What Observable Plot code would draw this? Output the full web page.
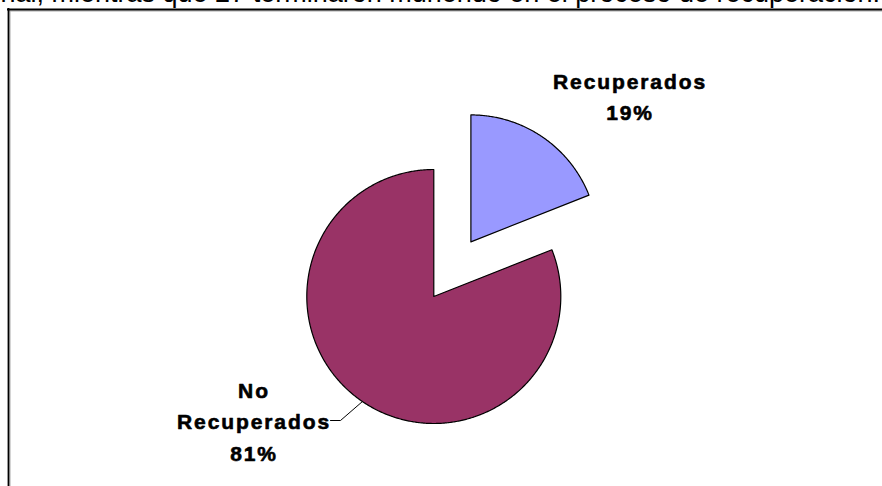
<!DOCTYPE html>
<html><head><meta charset="utf-8">
<script src="https://cdn.jsdelivr.net/npm/d3@7"></script>
<script src="https://cdn.jsdelivr.net/npm/@observablehq/plot@0.6"></script>
<style>body{margin:0;background:#fff}</style>
</head><body><div id="chart"></div>
<script>
// ---- data ----
const categories = ["Recuperados", "No Recuperados"];
const percents = [19, 81];
const labelTexts = ["Recuperados\n19%", "No\nRecuperados\n81%"];
const colors = ["#9999FF", "#993366"];
const introText = "nal, mientras que 27 terminaron muriendo en el proceso de recuperación.";

// ---- layout ----
const W = 882, H = 486;
const center = [433.3, 296], R = 127;
const explode = [66, 0];
const labelPos = [[629.5, 66], [253.5, 375]];

const arcs = d3.pie().sort(null).value(d => d.value)(
  categories.map((c, i) => ({category: c, value: percents[i]}))
);
const points = [];
const slicePos = [];
arcs.forEach((p, i) => {
  const mid = (p.startAngle + p.endAngle) / 2;
  const cx = center[0] + explode[i] * Math.sin(mid);
  const cy = center[1] - explode[i] * Math.cos(mid);
  slicePos.push({cx, cy, mid});
  const push = (x, y) => points.push({category: p.data.category, x, y});
  push(cx, cy);
  const n = Math.ceil((p.endAngle - p.startAngle) / (Math.PI / 360));
  for (let k = 0; k <= n; k++) {
    const a = p.startAngle + (p.endAngle - p.startAngle) * k / n;
    push(cx + R * Math.sin(a), cy - R * Math.cos(a));
  }
  push(cx, cy);
});

// leader line for the "No Recuperados" label
const s1 = slicePos[1];
const leader = [
  {x: s1.cx + R * Math.sin(s1.mid), y: s1.cy - R * Math.cos(s1.mid)},
  {x: 340, y: 420},
  {x: 330, y: 420}
];

const labels = categories.map((c, i) => ({text: labelTexts[i], x: labelPos[i][0], y: labelPos[i][1]}));

const chart = Plot.plot({
  width: W, height: H, margin: 0,
  x: {domain: [0, W], range: [0, W], axis: null},
  y: {domain: [0, H], range: [0, H], axis: null},
  color: {domain: categories, range: colors},
  style: {fontFamily: "'Liberation Sans', Arial, sans-serif", background: "white"},
  marks: [
    Plot.text([introText], {x: 0, y: 1.5, text: d => d, textAnchor: "start", lineAnchor: "bottom", fontSize: 27, fill: "black"}),
    Plot.ruleY([10.5], {x1: 9, x2: W, stroke: "#aaa", strokeWidth: 1}),
    Plot.ruleX([9.5], {y1: 10.5, y2: H, stroke: "#aaa", strokeWidth: 1}),
    Plot.ruleY([9], {x1: 7, x2: W, stroke: "black", strokeWidth: 1.8}),
    Plot.ruleX([8], {y1: 8, y2: H, stroke: "black", strokeWidth: 1.8}),
    Plot.line(points, {x: "x", y: "y", z: "category", fill: "category", stroke: "black", strokeWidth: 1.2}),
    Plot.line(leader, {x: "x", y: "y", stroke: "black", strokeWidth: 1}),
    Plot.text(labels, {x: "x", y: "y", text: "text", fontWeight: "bold", fontSize: 21, lineAnchor: "top", lineHeight: 1.5, fill: "black", stroke: "black", strokeWidth: 0.6})
  ]
});
chart.querySelectorAll('g[font-weight="bold"]').forEach(g => g.setAttribute("letter-spacing", "1.9"));
document.getElementById("chart").appendChild(chart);
</script>
</body></html>
